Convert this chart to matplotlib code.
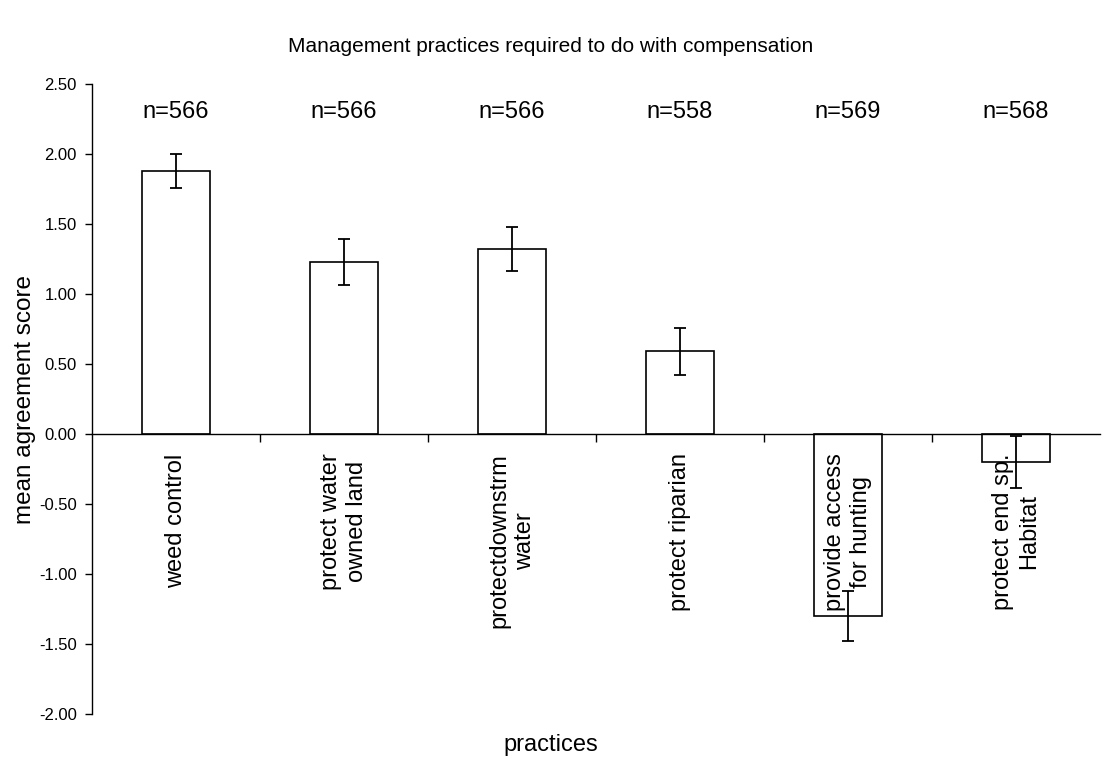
import matplotlib
matplotlib.use("Agg")
import matplotlib.pyplot as plt
import numpy as np

categories = ["weed control", "protect water\nowned land", "protectdownstrm\nwater",
              "protect riparian", "provide access\nfor hunting", "protect end sp.\nHabitat"]
means = [1.88, 1.23, 1.32, 0.59, -1.30, -0.20]
errors = [0.12, 0.165, 0.158, 0.165, 0.18, 0.185]
n_labels = ["n=566", "n=566", "n=566", "n=558", "n=569", "n=568"]
yticks = [-2.0, -1.5, -1.0, -0.5, 0.0, 0.5, 1.0, 1.5, 2.0, 2.5]

plt.rcParams['font.family'] = ['Liberation Sans', 'DejaVu Sans']

fig = plt.figure(figsize=(11.02, 7.65), dpi=100)
ax = fig.add_axes([92/1102, 1-714/765, (1100-92)/1102, (714-84)/765])

x = np.arange(len(categories))
ax.bar(x, means, width=0.4, color='white', edgecolor='black', linewidth=1.2, zorder=1)
ax.errorbar(x, means, yerr=errors, fmt='none', ecolor='black', elinewidth=1.3,
            capsize=4.5, capthick=1.3, zorder=6)

for xi, lab in zip(x, n_labels):
    ax.text(xi, 2.30, lab, ha='center', va='center', fontsize=17)

ax.set_xlim(-0.5, len(categories) - 0.5)
ax.set_ylim(-2.0, 2.5)
ax.set_yticks(yticks)
ax.set_yticklabels([f"{v:.2f}" for v in yticks], fontsize=12)
ax.tick_params(axis='y', direction='out', length=5, width=1, pad=6)

ax.spines['top'].set_visible(False)
ax.spines['right'].set_visible(False)
ax.spines['bottom'].set_position(('data', 0))
ax.spines['left'].set_linewidth(1)
ax.spines['bottom'].set_linewidth(1)

ax.set_xticks(np.arange(len(categories) - 1) + 0.5)
ax.set_xticklabels([])
ax.tick_params(axis='x', which='major', direction='out', length=6, width=1)
ax.set_xticks(x, minor=True)
ax.set_xticklabels(categories, minor=True, rotation=90, fontsize=17,
                   ha='center', va='top', multialignment='center')
ax.tick_params(axis='x', which='minor', length=0, pad=14)
ax.xaxis.set_zorder(5)
ax.spines['bottom'].set_zorder(5)

ax.set_ylabel("mean agreement score", fontsize=17.5, labelpad=2)
fig.text(551/1102, 1-745/765, "practices", ha='center', va='center', fontsize=17)
fig.text(551/1102, 1-47/765, "Management practices required to do with compensation",
         ha='center', va='center', fontsize=15)

fig.savefig("out.png", dpi=100)
